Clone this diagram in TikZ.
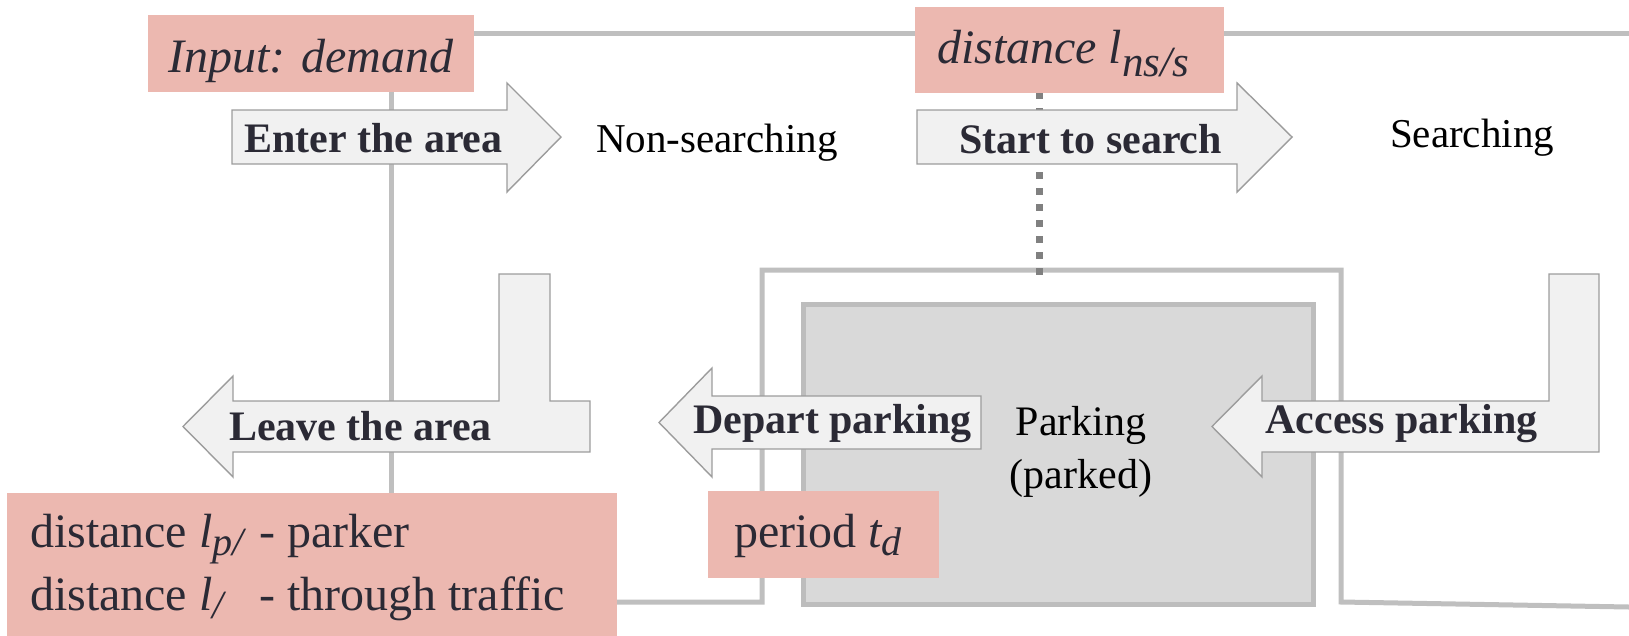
\documentclass[tikz,border=0pt]{standalone}
\usepackage{fontspec}
\setmainfont{Liberation Serif}

\definecolor{pinkfill}{HTML}{ECB8B0}
\definecolor{arrowfill}{HTML}{F1F1F1}
\definecolor{arrowdraw}{HTML}{9C9C9C}
\definecolor{roadgray}{HTML}{BFBFBF}
\definecolor{parkfill}{HTML}{D9D9D9}
\definecolor{parkdraw}{HTML}{BDBDBD}
\definecolor{dotgray}{HTML}{808080}
\definecolor{ink}{HTML}{2B2A35}

% lowered italic subscript: #1 = drop, #2 = size, #3 = text
\newcommand\lowsub[3]{\raisebox{-#1}{\fontsize{#2}{#2}\selectfont\itshape #3}}

\tikzset{
  road/.style={draw=roadgray, line width=5pt, line join=miter},
  pinkbox/.style={rectangle, fill=pinkfill, inner sep=0pt, outer sep=0pt},
  parkbox/.style={rectangle, fill=parkfill, draw=parkdraw, line width=5pt, inner sep=0pt, outer sep=0pt},
  flow/.style={fill=arrowfill, draw=arrowdraw, line width=1.4pt, line join=miter},
  dotline/.style={draw=dotgray, line width=7pt, dash pattern=on 7pt off 9pt},
  lbl/.style={text=ink, inner sep=0pt, outer sep=0pt},
  steplbl/.style={lbl, anchor=base, font=\fontsize{42}{50}\selectfont\bfseries},
  statelbl/.style={text=black, inner sep=0pt, outer sep=0pt, anchor=base, font=\fontsize{41}{50}\selectfont},
  parlbl/.style={lbl, anchor=base west, font=\fontsize{48}{56}\selectfont},
}

\begin{document}
\begin{tikzpicture}[x=1pt,y=-1pt]
\useasboundingbox (0,0) rectangle (1629,635);

% ---- boxes and anchor points ----
\node[pinkbox, minimum width=326pt, minimum height=77pt] (inbox) at (311,53.5) {};
\node[pinkbox, minimum width=309pt, minimum height=86pt] (distbox) at (1069.5,50) {};
\node[pinkbox, minimum width=610pt, minimum height=150pt] (exitbox) at (312,568) {};
\node[pinkbox, minimum width=231pt, minimum height=87pt] (tdbox) at (823.5,534.5) {};

\coordinate (topend) at (1629,33);
\coordinate (vtop) at (391,92);
\coordinate (vbot) at (391,493);
\coordinate (rdA) at (617,602);
\coordinate (rdB) at (762,602);
\coordinate (rdC) at (762,270);
\coordinate (rdD) at (1341,270);
\coordinate (rdE) at (1341,602);
\coordinate (rdF) at (1629,607);
\coordinate (dotA) at (1039,92);
\coordinate (dotB) at (1039,275);

% ---- road lines ----
\draw[road] (inbox.east |- topend) -- (topend);
\draw[road] (vtop) -- (vbot);
\draw[road] (rdA) -- (rdB) -- (rdC) -- (rdD) -- (rdE) -- (rdF);

% ---- parking lot ----
\node[parkbox, minimum width=510pt, minimum height=300pt] (park) at (1058,454) {};

% ---- dotted link from the search distance ----
\draw[dotline] (dotA) -- (dotB);

% ---- flow arrows ----
\draw[flow] (232,110) -- (507,110) -- (507,83) -- (561,137) -- (507,192) -- (507,164) -- (232,164) -- cycle;
\draw[flow] (917,110) -- (1237,110) -- (1237,83) -- (1292,137) -- (1237,192) -- (1237,164) -- (917,164) -- cycle;
\draw[flow] (550,274) -- (550,401) -- (590,401) -- (590,452) -- (233,452) -- (233,477) -- (183,426.5)
  -- (233,376) -- (233,401) -- (499,401) -- (499,274) -- cycle;
\draw[flow] (981,396) -- (981,449) -- (712,449) -- (712,477) -- (659,422.5) -- (712,368) -- (712,396) -- cycle;
\draw[flow] (1599,274) -- (1599,452) -- (1262,452) -- (1262,477) -- (1212,426.5) -- (1262,376)
  -- (1262,401) -- (1549,401) -- (1549,274) -- cycle;

% ---- pink boxes on top ----
\fill[pinkfill] (inbox.north west) rectangle (inbox.south east);
\fill[pinkfill] (distbox.north west) rectangle (distbox.south east);
\fill[pinkfill] (exitbox.north west) rectangle (exitbox.south east);
\fill[pinkfill] (tdbox.north west) rectangle (tdbox.south east);

% ---- texts ----
\node[lbl, anchor=base, font=\fontsize{48}{56}\selectfont\itshape] (intxt) at (311,72) {Input: demand};
\node[lbl, anchor=base west, font=\fontsize{48}{56}\selectfont\itshape] (disttxt) at (937,63)
  {distance l\lowsub{13pt}{43}{ns/s}};

\node[steplbl] (enter) at (373.5,152) {Enter the area};
\node[steplbl] (start) at (1090.5,153) {Start to search};
\node[steplbl] (leave) at (360.5,440) {Leave the area};
\node[steplbl] (depart) at (832.5,433) {Depart parking};
\node[steplbl] (access) at (1401.5,433) {Access parking};

\node[statelbl] (nonsearch) at (717,152) {Non-searching};
\node[statelbl] (search) at (1472,147) {Searching};
\node[statelbl, font=\fontsize{42}{50}\selectfont] (park1) at (1081,435) {Parking};
\node[statelbl, font=\fontsize{42}{50}\selectfont] (park2) at (1081,488) {(parked)};

\node[parlbl] (exit1) at (30,547)
  {distance \makebox[60pt][l]{\itshape l\lowsub{8pt}{40}{p/}}- parker};
\node[parlbl] (exit2) at (30,610)
  {distance \makebox[60pt][l]{\itshape l\lowsub{8pt}{40}{/}}- through traffic};
\node[parlbl] (tdtxt) at (734,547) {period {\itshape t}\lowsub{8pt}{40}{d}};
\end{tikzpicture}
\end{document}
